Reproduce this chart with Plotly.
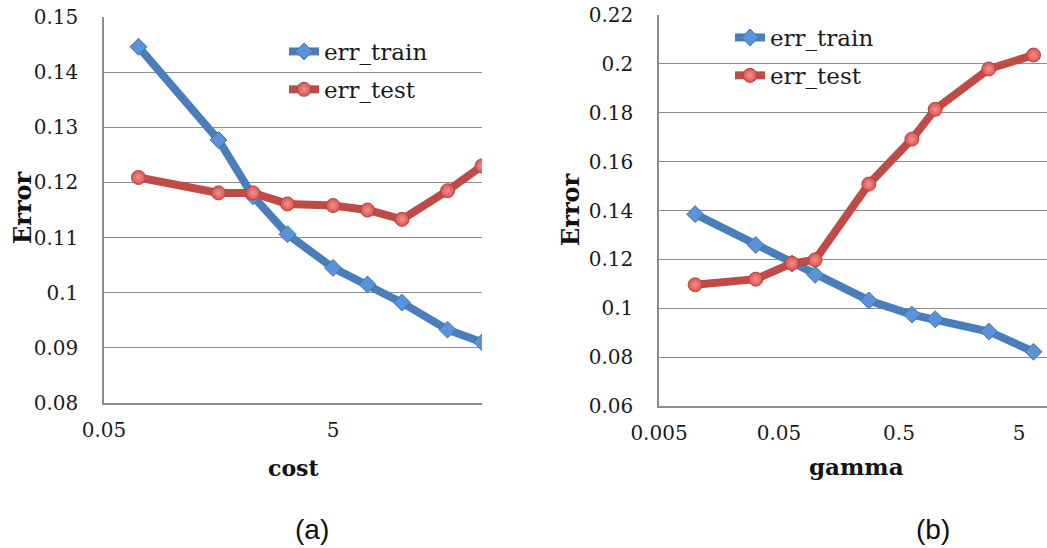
import plotly.graph_objects as go

# (a) error vs. cost
cost = [0.1, 0.5, 1, 2, 5, 10, 20, 50, 100]
err_train_cost = [0.1446, 0.1277, 0.1175, 0.1106, 0.1045, 0.1015, 0.0982, 0.0933, 0.0910]
err_test_cost = [0.1209, 0.1181, 0.1181, 0.1161, 0.1158, 0.1150, 0.1133, 0.1185, 0.1230]

# (b) error vs. gamma
gamma = [0.01, 0.032, 0.064, 0.1, 0.28, 0.64, 1, 2.8, 6.6]
err_train_gamma = [0.1385, 0.1259, 0.1183, 0.1137, 0.1032, 0.0974, 0.0955, 0.0905, 0.0822]
err_test_gamma = [0.1096, 0.1119, 0.1184, 0.1198, 0.1508, 0.1692, 0.1814, 0.1979, 0.2036]

cost_ticks = [0.05, 5]
cost_ticktext = ["0.05", "5"]
gamma_ticks = [0.005, 0.05, 0.5, 5]
gamma_ticktext = ["0.005", "0.05", "0.5", "5"]

W, H = 1047, 548
SERIF = "DejaVu Serif, serif"
BLUE, RED = "#4A7EBB", "#BE4B48"
GRID = "#8C8C8C"


def px_x(v):
    return v / W


def px_y(v):
    return 1 - v / H


train_style = dict(
    mode="lines+markers",
    line=dict(color=BLUE, width=8),
    marker=dict(symbol="diamond", size=13, color="#5B93D9",
                line=dict(color="#3F74B5", width=1)),
)
test_style = dict(
    mode="lines+markers",
    line=dict(color=RED, width=8),
    marker=dict(symbol="circle", size=14, color="#D9534F",
                gradient=dict(type="radial", color="#F2928E"),
                line=dict(color="#B8403C", width=1)),
)

fig = go.Figure()
fig.add_trace(go.Scatter(x=cost, y=err_train_cost, name="err_train", xaxis="x", yaxis="y",
                         legend="legend", legendgroup="a1", **train_style))
fig.add_trace(go.Scatter(x=cost, y=err_test_cost, name="err_test", xaxis="x", yaxis="y",
                         legend="legend", legendgroup="a2", **test_style))
fig.add_trace(go.Scatter(x=gamma, y=err_train_gamma, name="err_train", xaxis="x2", yaxis="y2",
                         legend="legend2", legendgroup="b1", **train_style))
fig.add_trace(go.Scatter(x=gamma, y=err_test_gamma, name="err_test", xaxis="x2", yaxis="y2",
                         legend="legend2", legendgroup="b2", **test_style))

tick_font = dict(family=SERIF, size=20, color="#1A1A1A")
legend_font = dict(family=SERIF, size=23, color="#1A1A1A")

common_x = dict(type="log", showgrid=False, showline=True, linecolor=GRID, linewidth=1.5,
                ticks="", tickfont=tick_font, ticklabelstandoff=8, zeroline=False,
                automargin=False)
common_y = dict(showgrid=True, gridcolor=GRID, gridwidth=1, showline=True, linecolor=GRID,
                linewidth=1.5, ticks="", tickfont=tick_font, ticklabelstandoff=20,
                zeroline=False, automargin=False)

fig.update_layout(
    width=W, height=H,
    margin=dict(l=0, r=0, t=0, b=0, autoexpand=False),
    paper_bgcolor="white", plot_bgcolor="white",
    xaxis=dict(domain=[px_x(104), px_x(482)], range=[-1.30103, 2.0], anchor="y",
               tickvals=cost_ticks, ticktext=cost_ticktext, **common_x),
    yaxis=dict(domain=[px_y(403), px_y(17)], range=[0.08, 0.15], dtick=0.01, anchor="x",
               **common_y),
    xaxis2=dict(domain=[px_x(659), 1.0], range=[-2.30103, 0.932], anchor="y2",
                tickvals=gamma_ticks, ticktext=gamma_ticktext, **common_x),
    yaxis2=dict(domain=[px_y(406), px_y(15)], range=[0.06, 0.22], dtick=0.02, anchor="x2",
                **common_y),
    legend=dict(x=px_x(284), y=px_y(30), xanchor="left", yanchor="top",
                font=legend_font, bgcolor="rgba(0,0,0,0)", tracegroupgap=5),
    legend2=dict(x=px_x(730), y=px_y(16), xanchor="left", yanchor="top",
                 font=legend_font, bgcolor="rgba(0,0,0,0)", tracegroupgap=5),
    showlegend=True,
)


def bold(size):
    return dict(family=SERIF, size=size, color="#111111", weight="bold")


caption_font = dict(family="Liberation Sans, Arial", size=28, color="#111111")
annotations = [
    dict(text="Error", x=px_x(22), y=px_y(208), textangle=-90, font=bold(24)),
    dict(text="Error", x=px_x(571), y=px_y(210), textangle=-90, font=bold(24)),
    dict(text="cost", x=px_x(293), y=px_y(468), font=bold(22)),
    dict(text="gamma", x=px_x(856), y=px_y(466), font=bold(23)),
    dict(text="(a)", x=px_x(312), y=px_y(529), font=caption_font),
    dict(text="(b)", x=px_x(933), y=px_y(529), font=caption_font),
]
for a in annotations:
    fig.add_annotation(xref="paper", yref="paper", showarrow=False,
                       xanchor="center", yanchor="middle", **a)

fig.write_html("out.html")
